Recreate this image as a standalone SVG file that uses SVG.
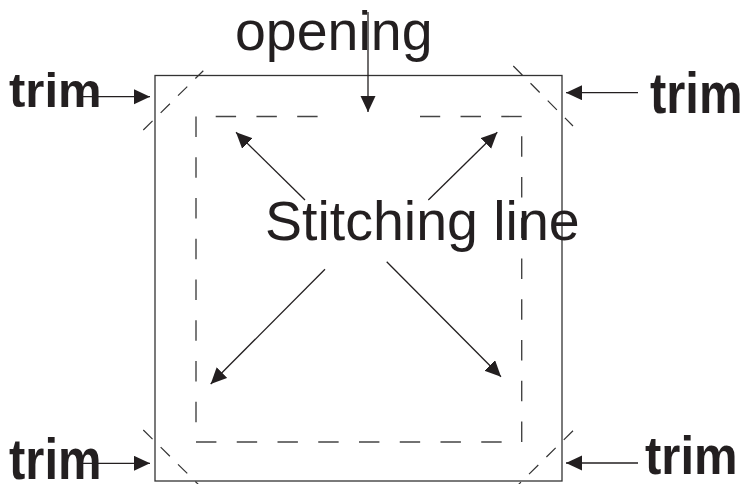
<svg xmlns="http://www.w3.org/2000/svg" width="743" height="484" viewBox="0 0 743 484">
  <defs>
    <marker id="ah" markerUnits="userSpaceOnUse" markerWidth="17" markerHeight="16" refX="16" refY="7.5" orient="auto">
      <path d="M0,0 L16,7.5 L0,15 z" fill="#231f20"/>
    </marker>
  </defs>
  <style>
    .outer { fill: none; stroke: #333; stroke-width: 1.3; }
    .stitch { fill: none; stroke: #444; stroke-width: 1.4; stroke-dasharray: 20.4 20.35; }
    .trimcut { fill: none; stroke: #333; stroke-width: 1.2; stroke-dasharray: 13 11.4; }
    .arrow { fill: none; stroke: #231f20; stroke-width: 1.3; marker-end: url(#ah); }
    .trim { font-family: "Liberation Sans", Arial, sans-serif; font-weight: bold; font-size: 49px; fill: #231f20; }
    .label { font-family: "Liberation Sans", Arial, sans-serif; font-size: 55.5px; fill: #231f20; }
  </style>
  <rect x="0" y="0" width="743" height="484" fill="#ffffff"/>

  <g id="fabric">
    <rect class="outer" x="155" y="75.5" width="407" height="405.5"/>
  </g>

  <g id="stitching-line">
    <path class="stitch" d="M196,116.5 V442"/>
    <path class="stitch" d="M196,442 H521.7"/>
    <path class="stitch" d="M521.7,442 V116.5"/>
    <path class="stitch" d="M521.7,116.5 H420"/>
    <path class="stitch" d="M317.6,116.5 H196"/>
  </g>

  <g id="trim-cuts">
    <path class="trimcut" d="M143.3,130 L203.3,70.7"/>
    <path class="trimcut" d="M513.3,66 L573,126"/>
    <path class="trimcut" d="M143.3,430 L204,490"/>
    <path class="trimcut" d="M573,430.7 L513,490"/>
  </g>

  <g id="label-trim-tl"><text class="trim" x="9" y="107">trim</text></g>
  <g id="label-trim-tr"><text class="trim" transform="translate(650,113) scale(1,1.16)">trim</text></g>
  <g id="label-trim-bl"><text class="trim" transform="translate(9,479) scale(1,1.18)">trim</text></g>
  <g id="label-trim-br"><text class="trim" transform="translate(645,474) scale(1,1.1)">trim</text></g>
  <g id="label-opening"><text class="label" x="235" y="50">opening</text></g>
  <g id="label-stitching"><text class="label" x="265" y="240">Stitching line</text></g>

  <g id="connectors">
    <line class="arrow" x1="82" y1="96.7" x2="150" y2="96.7"/>
    <line class="arrow" x1="638" y1="92.7" x2="566" y2="92.7"/>
    <line class="arrow" x1="82" y1="463.3" x2="150" y2="463.3"/>
    <line class="arrow" x1="638" y1="463" x2="566" y2="463"/>
    <line class="arrow" x1="368" y1="12" x2="368" y2="112"/>
    <line class="arrow" x1="305" y1="200" x2="236" y2="132.3"/>
    <line class="arrow" x1="428.3" y1="200" x2="497.3" y2="132.3"/>
    <line class="arrow" x1="325" y1="269.3" x2="210.7" y2="384"/>
    <line class="arrow" x1="386.7" y1="261.7" x2="501" y2="376.7"/>
  </g>
</svg>
